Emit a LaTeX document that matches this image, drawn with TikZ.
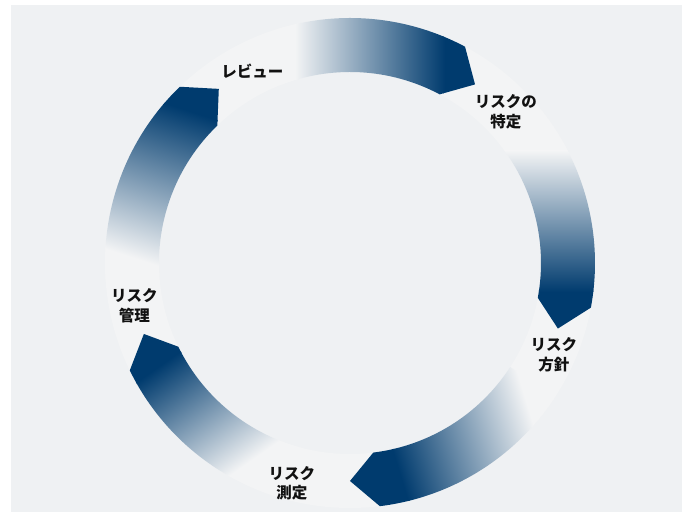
\documentclass[tikz,border=0pt]{standalone}
\usepackage{fontspec}
\usetikzlibrary{calc}
\newfontfamily\jp{Noto Sans CJK JP}
\definecolor{bgc}{HTML}{EFF1F3}
\definecolor{ringc}{HTML}{F3F4F5}
\definecolor{navy}{HTML}{003B6E}
\definecolor{txt}{HTML}{111111}
\colorlet{midc}{navy!38!ringc}
\tikzset{lbl/.style={font=\jp\bfseries\fontsize{15.5}{19.5}\selectfont, align=center, inner sep=0pt, text=txt}}
% #1 end angle, #2 gradient direction, #3 light end, #4 dark start
\newcommand\ringarrow[4]{%
  \begin{scope}
    \clip (#1+50:245pt) arc[start angle=#1+50, end angle=#1, radius=245pt]
      -- (#1-7:218pt) -- (#1:191pt)
      arc[start angle=#1, end angle=#1+50, radius=191pt] -- cycle;
    \begin{scope}[transform canvas={rotate=#2}]
      \fill[ringc] (-400pt,-400pt) rectangle ($(#3pt,400pt)+(2pt,0)$);
      \fill[navy] ($(#4pt,-400pt)-(2pt,0)$) rectangle (400pt,400pt);
      \shade[left color=ringc, middle color=midc, right color=navy] (#3pt,-400pt) rectangle (#4pt,400pt);
    \end{scope}
  \end{scope}}
\begin{document}
\begin{tikzpicture}[x=1pt,y=1pt]
\useasboundingbox (-350,-255) rectangle (336,263);
\fill[white] (-350,-255) rectangle (336,263);
\fill[bgc] (-339,-249) rectangle (332,258);
\fill[ringc, even odd rule] (0,0) circle[radius=245pt] (0,0) circle[radius=191pt];
\ringarrow{62}{0}{-55}{95}
\ringarrow{-10.5}{-90}{-112}{29}
\ringarrow{-83}{197}{-128}{14}
\ringarrow{-154}{125}{-105}{25}
\ringarrow{134}{72}{-62}{95}
\node[lbl] (review) at (-97.5,192) {レビュー};
\node[lbl] (tokutei) at (156,151) {リスクの\\特定};
\node[lbl] (hoshin) at (204,-92) {リスク\\方針};
\node[lbl] (sokutei) at (-58,-220.5) {リスク\\測定};
\node[lbl] (kanri) at (-215.5,-42.5) {リスク\\管理};
\end{tikzpicture}
\end{document}
